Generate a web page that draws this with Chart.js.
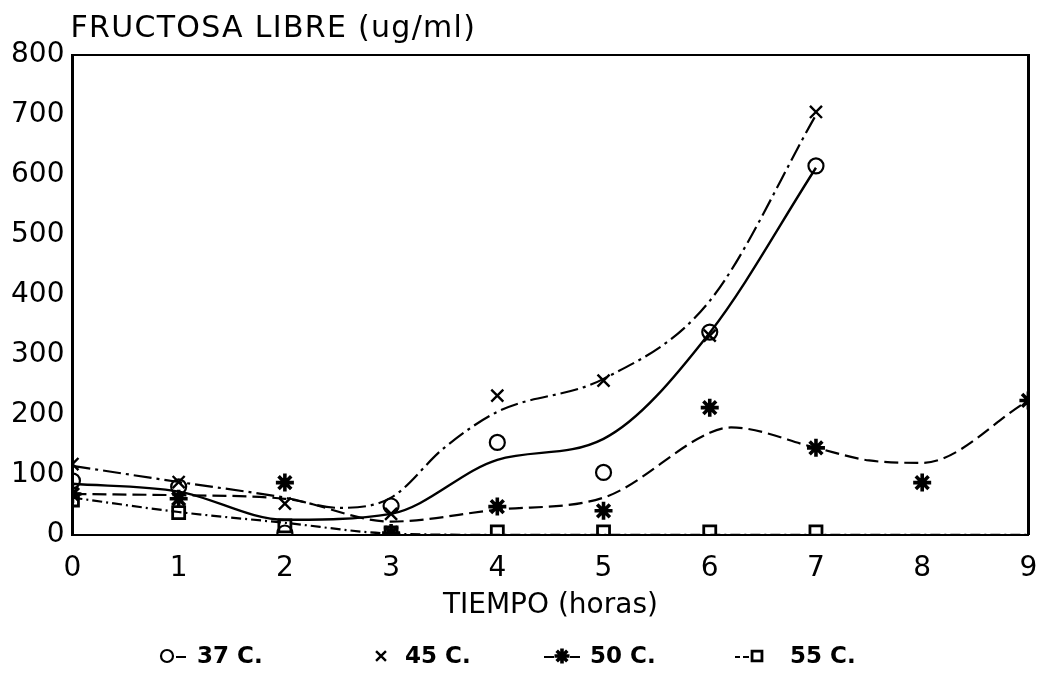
<!DOCTYPE html>
<html>
<head>
<meta charset="utf-8">
<script src="https://cdn.jsdelivr.net/npm/chart.js@4.4.1/dist/chart.umd.min.js"></script>
<style>
  html, body { margin: 0; padding: 0; background: #fff; }
  #wrap { width: 1041px; height: 682px; }
</style>
</head>
<body>
<div id="wrap"><canvas id="c" width="1041" height="682"></canvas></div>
<script>
// Free fructose (ug/ml) measured hourly at four temperatures
const seriesLabels = ['37 C.', '45 C.', '50 C.', '55 C.'];

// measured points
const hours37 = [0, 1, 2, 3, 4, 5, 6, 7];
const fructose37 = [90, 80, 3, 48, 154, 104, 338, 615];
const hours45 = [0, 1, 2, 3, 4, 5, 6, 7];
const fructose45 = [118, 88, 52, 35, 232, 257, 332, 705];
const hours50 = [0, 1, 2, 3, 4, 5, 6, 7, 8, 9];
const fructose50 = [68, 60, 87, 3, 47, 40, 212, 145, 87, 224];
const hours55 = [0, 1, 2, 3, 4, 5, 6, 7];
const fructose55 = [58, 37, 15, 3, 5, 5, 5, 5];

// smoothed trend curves
const trendHours37 = [0, 1, 2, 3, 4, 5, 6, 7];
const trend37 = [85, 72, 25, 35, 125, 160, 337, 612];
const trendHours45 = [0, 1, 2, 2.5, 3, 3.5, 4, 5, 6, 7];
const trend45 = [115, 88, 62, 45, 62, 145, 205, 260, 390, 700];
const trendHours50 = [0, 1, 2, 3, 4, 5, 6, 6.2, 7, 7.5, 8, 9];
const trend50 = [68, 66, 60, 22, 42, 62, 170, 179, 145, 124, 120, 224];
const trendHours55 = [0, 1, 2, 3, 4, 9];
const trend55 = [62, 38, 20, 2, 0, 0];

const xTicks = [0, 1, 2, 3, 4, 5, 6, 7, 8, 9];
const yTicks = [0, 100, 200, 300, 400, 500, 600, 700, 800];

const FONT = 'DejaVu Sans';
const pair = (xs, ys) => xs.map((x, i) => ({ x: x, y: ys[i] }));

const markerStyles = [
  { pointStyle: 'circle', radius: 7.5, borderWidth: 2.2, fill: 'rgba(255,255,255,0)' },
  { pointStyle: 'crossRot', radius: 8.5, borderWidth: 2.4, fill: '#000' },
  { pointStyle: 'star', radius: 9, borderWidth: 3.6, fill: '#000' },
  { pointStyle: 'rect', radius: 8.5, borderWidth: 2.8, fill: 'rgba(255,255,255,0)' }
];

function trendSet(xs, ys, dash, width) {
  return {
    type: 'line',
    data: pair(xs, ys),
    showLine: true,
    borderColor: '#000',
    borderWidth: width,
    borderDash: dash,
    pointRadius: 0,
    cubicInterpolationMode: 'monotone',
    fill: false,
    order: 2
  };
}

function markerSet(label, xs, ys, m) {
  return {
    label: label,
    data: pair(xs, ys),
    showLine: false,
    pointStyle: m.pointStyle,
    pointRadius: m.radius,
    pointBorderWidth: m.borderWidth,
    pointBorderColor: '#000',
    pointBackgroundColor: m.fill,
    borderColor: '#000',
    order: 1
  };
}

const datasets = [
  trendSet(trendHours37, trend37, [], 2.4),
  trendSet(trendHours45, trend45, [18, 5, 3, 5], 2.2),
  trendSet(trendHours50, trend50, [14, 6], 2.2),
  trendSet(trendHours55, trend55, [10, 4, 2, 4], 2.2),
  markerSet(seriesLabels[0], hours37, fructose37, markerStyles[0]),
  markerSet(seriesLabels[1], hours45, fructose45, markerStyles[1]),
  markerSet(seriesLabels[2], hours50, fructose50, markerStyles[2]),
  markerSet(seriesLabels[3], hours55, fructose55, markerStyles[3])
];

// y-axis heading written horizontally above the plot
const headingPlugin = {
  id: 'heading',
  afterDraw(chart) {
    const ctx = chart.ctx;
    ctx.save();
    ctx.fillStyle = '#000';
    ctx.font = '30px "' + FONT + '"';
    if ('letterSpacing' in ctx) ctx.letterSpacing = '1.3px';
    ctx.textAlign = 'left';
    ctx.textBaseline = 'middle';
    ctx.fillText('FRUCTOSA LIBRE (ug/ml)', chart.chartArea.left - 2, 29);
    ctx.restore();
  }
};

// legend row: marker with short line stubs, then bold label
const keyPlugin = {
  id: 'key',
  afterDraw(chart) {
    const ctx = chart.ctx;
    const y = 657;
    const items = [
      { marker: 167, stubs: [[176, 186]], text: 197 },
      { marker: 381, stubs: [], text: 405 },
      { marker: 562, stubs: [[544, 554], [570, 580]], text: 590 },
      { marker: 757, stubs: [[735, 740], [743, 749]], text: 790 }
    ];
    ctx.save();
    items.forEach((it, i) => {
      const m = markerStyles[i];
      ctx.strokeStyle = '#000';
      ctx.lineWidth = 2;
      it.stubs.forEach(s => {
        ctx.beginPath();
        ctx.moveTo(s[0], y);
        ctx.lineTo(s[1], y);
        ctx.stroke();
      });
      ctx.fillStyle = m.fill;
      ctx.lineWidth = m.borderWidth;
      Chart.helpers.drawPoint(ctx, {
        pointStyle: m.pointStyle,
        radius: m.radius - 1.5,
        borderWidth: m.borderWidth,
        rotation: 0
      }, it.marker, y - 1);
      ctx.fillStyle = '#000';
      ctx.font = 'bold 23px "' + FONT + '"';
      ctx.textAlign = 'left';
      ctx.textBaseline = 'middle';
      ctx.fillText(seriesLabels[i], it.text, y);
    });
    ctx.restore();
  }
};

const frameDash = [22, 4, 3, 4];
const noEdgePadding = s => { s.paddingLeft = 0; s.paddingRight = 0; };

new Chart(document.getElementById('c'), {
  type: 'scatter',
  data: { datasets: datasets },
  options: {
    responsive: false,
    animation: false,
    layout: { padding: { top: 55, right: -2, bottom: 59, left: 3 } },
    plugins: {
      legend: { display: false },
      tooltip: { enabled: false },
      title: { display: false }
    },
    scales: {
      x: {
        type: 'linear',
        position: 'bottom',
        min: xTicks[0],
        max: xTicks[xTicks.length - 1],
        afterBuildTicks: s => { s.ticks = xTicks.map(v => ({ value: v })); },
        afterFit: noEdgePadding,
        ticks: { color: '#000', font: { family: FONT, size: 28 }, padding: 17 },
        grid: { display: false, drawTicks: false },
        border: { display: true, color: '#000', width: 2, dash: frameDash },
        title: {
          display: true,
          text: 'TIEMPO (horas)',
          color: '#000',
          font: { family: FONT, size: 28 },
          padding: { top: -13, bottom: 0 }
        }
      },
      xTop: {
        type: 'linear',
        position: 'top',
        min: xTicks[0],
        max: xTicks[xTicks.length - 1],
        afterFit: noEdgePadding,
        ticks: { display: false },
        grid: { display: false, drawTicks: false },
        border: { display: true, color: '#000', width: 2, dash: frameDash }
      },
      y: {
        type: 'linear',
        position: 'left',
        min: yTicks[0],
        max: yTicks[yTicks.length - 1],
        afterBuildTicks: s => { s.ticks = yTicks.map(v => ({ value: v })); },
        ticks: { color: '#000', font: { family: FONT, size: 28 }, padding: 8 },
        grid: { display: false, drawTicks: false },
        border: { display: true, color: '#000', width: 3 }
      },
      yRight: {
        type: 'linear',
        position: 'right',
        min: yTicks[0],
        max: yTicks[yTicks.length - 1],
        afterFit: s => { s.width = 0; },
        ticks: { display: false },
        grid: { display: false, drawTicks: false },
        border: { display: true, color: '#000', width: 3 }
      }
    }
  },
  plugins: [headingPlugin, keyPlugin]
});
</script>
</body>
</html>
